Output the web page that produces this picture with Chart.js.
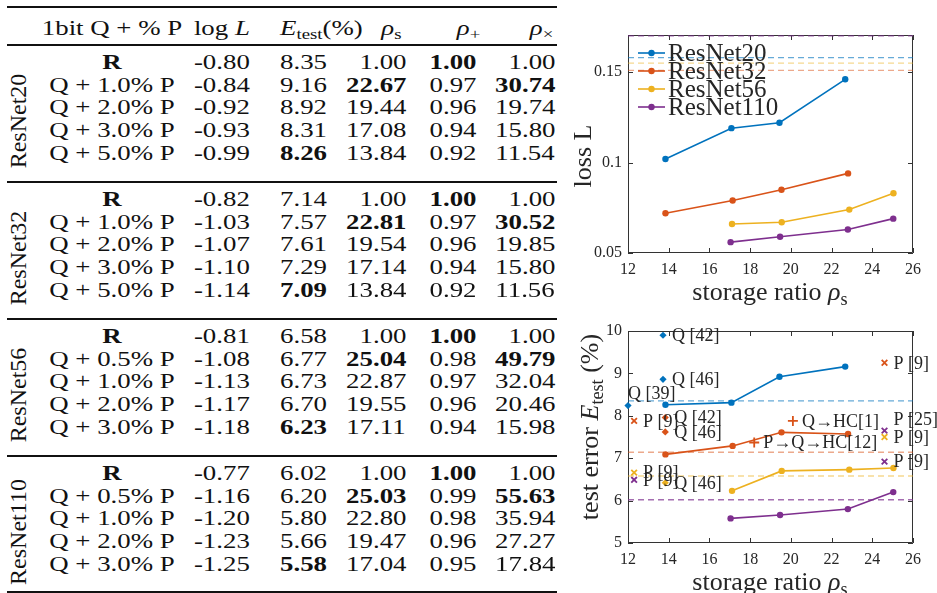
<!DOCTYPE html>
<html>
<head>
<meta charset="utf-8">
<script src="https://cdn.jsdelivr.net/npm/chart.js@4.4.0/dist/chart.umd.min.js"></script>
<style>
  body { margin: 0; background: #fff; }
  #page { position: relative; width: 937px; height: 593px; overflow: hidden;
          font-family: 'Liberation Serif', serif; color: #111; }
  .cell { position: absolute; white-space: nowrap; font-size: 22px; line-height: 22px; height: 22px; }
  .cell sub, .ttl sub { font-size: 0.7em; vertical-align: -0.25em; line-height: 0; }
  .rule { position: absolute; left: 7px; width: 550px; background: #111; }
  .cv { position: absolute; }
  .ttl { position: absolute; white-space: nowrap; font-size: 26px; line-height: 1; color: #262626; }
</style>
</head>
<body>
<div id="page">
  <div id="table"></div>
  <div class="cv" style="left:560px;top:0"><canvas id="lossChart" width="377" height="300"></canvas></div>
  <div class="cv" style="left:560px;top:300px"><canvas id="errChart" width="377" height="293"></canvas></div>
  <div class="ttl" style="left:770px;top:292px;transform:translate(-50%,-50%)">storage ratio <i>ρ</i><sub>s</sub></div>
  <div class="ttl" style="left:583px;top:156px;transform:translate(-50%,-50%) rotate(-90deg)">loss L</div>
  <div class="ttl" style="left:770px;top:582px;transform:translate(-50%,-50%)">storage ratio <i>ρ</i><sub>s</sub></div>
  <div class="ttl" style="left:590px;top:427px;transform:translate(-50%,-50%) rotate(-90deg)">test error <i>E</i><sub>test</sub> (%)</div>
</div>

<script>
// ---------- table data ----------
const nets = ['ResNet20', 'ResNet32', 'ResNet56', 'ResNet110'];
const methods = [
  ['R', 'Q + 1.0% P', 'Q + 2.0% P', 'Q + 3.0% P', 'Q + 5.0% P'],
  ['R', 'Q + 1.0% P', 'Q + 2.0% P', 'Q + 3.0% P', 'Q + 5.0% P'],
  ['R', 'Q + 0.5% P', 'Q + 1.0% P', 'Q + 2.0% P', 'Q + 3.0% P'],
  ['R', 'Q + 0.5% P', 'Q + 1.0% P', 'Q + 2.0% P', 'Q + 3.0% P']
];
const logL = [
  [-0.80, -0.84, -0.92, -0.93, -0.99],
  [-0.82, -1.03, -1.07, -1.10, -1.14],
  [-0.81, -1.08, -1.13, -1.17, -1.18],
  [-0.77, -1.16, -1.20, -1.23, -1.25]
];
const eTest = [
  [8.35, 9.16, 8.92, 8.31, 8.26],
  [7.14, 7.57, 7.61, 7.29, 7.09],
  [6.58, 6.77, 6.73, 6.70, 6.23],
  [6.02, 6.20, 5.80, 5.66, 5.58]
];
const rhoS = [
  [1.00, 22.67, 19.44, 17.08, 13.84],
  [1.00, 22.81, 19.54, 17.14, 13.84],
  [1.00, 25.04, 22.87, 19.55, 17.11],
  [1.00, 25.03, 22.80, 19.47, 17.04]
];
const rhoPlus = [
  [1.00, 0.97, 0.96, 0.94, 0.92],
  [1.00, 0.97, 0.96, 0.94, 0.92],
  [1.00, 0.98, 0.97, 0.96, 0.94],
  [1.00, 0.99, 0.98, 0.96, 0.95]
];
const rhoTimes = [
  [1.00, 30.74, 19.74, 15.80, 11.54],
  [1.00, 30.52, 19.85, 15.80, 11.56],
  [1.00, 49.79, 32.04, 20.46, 15.98],
  [1.00, 55.63, 35.94, 27.27, 17.84]
];

// ---------- chart data ----------
const netColors = ['#0072BD', '#D95319', '#EDB120', '#7E2F8E'];
const refColors = ['rgba(0,114,189,0.6)', 'rgba(217,83,25,0.5)', 'rgba(237,177,32,0.5)', 'rgba(126,47,142,0.7)'];
const storageTicks = [12, 14, 16, 18, 20, 22, 24, 26];
const lossTicks = [0.05, 0.1, 0.15];
const errorTicks = [5, 6, 7, 8, 9, 10];

const ratios = [
  [13.84, 17.08, 19.44, 22.67],
  [13.84, 17.14, 19.54, 22.81],
  [17.11, 19.55, 22.87, 25.04],
  [17.04, 19.47, 22.80, 25.03]
];
const loss = [
  [0.102, 0.119, 0.122, 0.146],
  [0.072, 0.079, 0.085, 0.094],
  [0.066, 0.067, 0.074, 0.083],
  [0.056, 0.059, 0.063, 0.069]
];
const lossRef = [0.158, 0.151, 0.155, 0.170];
const errors = [
  [8.26, 8.31, 8.92, 9.16],
  [7.09, 7.29, 7.61, 7.57],
  [6.23, 6.70, 6.73, 6.77],
  [5.58, 5.66, 5.80, 6.20]
];
const errorRef = [8.35, 7.14, 6.58, 6.02];

// other methods in the error plot
const otherNet   = [0, 0, 0, 1, 1, 1, 1, 1, 1, 2, 2, 2, 3, 3, 3];
const otherMark  = ['d', 'd', 'd', 'x', 'd', 'd', '+', '+', 'x', 'x', 'd', 'x', 'x', 'x', 'x'];
const otherX     = [13.72, 13.72, 12.0, 12.3, 13.83, 13.83, 20.1, 18.2, 24.6, 12.3, 13.83, 24.6, 12.3, 24.6, 24.6];
const otherY     = [9.90, 8.86, 8.24, 7.88, 7.96, 7.62, 7.88, 7.37, 9.25, 6.66, 6.42, 7.50, 6.49, 7.65, 6.92];
const otherLabel = ['Q [42]', 'Q [46]', 'Q [39]', 'P [9]', 'Q [42]', 'Q [46]', 'Q\u2192HC[1]', 'P\u2192Q\u2192HC[12]',
                    'P [9]', 'P [9]', 'Q [46]', 'P [9]', 'P [9]', 'P [25]', 'P [9]'];

// ---------- table ----------
const SX = 1.22;   // the table text is stretched horizontally
const page = document.getElementById('page');
function put(html, x, y, align, bold) {
  const d = document.createElement('div');
  d.className = 'cell';
  d.innerHTML = html;
  d.style.top = (y - 11) + 'px';
  if (bold) d.style.fontWeight = 'bold';
  if (align === 'right') {
    d.style.right = (937 - x) + 'px';
    d.style.transformOrigin = 'right center';
    d.style.transform = `scaleX(${SX})`;
  } else if (align === 'left') {
    d.style.left = x + 'px';
    d.style.transformOrigin = 'left center';
    d.style.transform = `scaleX(${SX})`;
  } else {
    d.style.left = x + 'px';
    d.style.transform = `translateX(-50%) scaleX(${SX})`;
  }
  page.appendChild(d);
}
function rule(y, h) {
  const r = document.createElement('div');
  r.className = 'rule';
  r.style.top = (y - h / 2) + 'px';
  r.style.height = h + 'px';
  page.appendChild(r);
}

const COL = { label: 112, logL: 250, e: 280, rs: 406, rp: 476, rx: 555 };
rule(7, 2);
put('1bit Q + % P', COL.label, 28, 'center');
put('log <i>L</i>', COL.logL, 28, 'right');
put('<i>E</i><sub>test</sub>(%)', COL.e, 28, 'left');
put('<i>ρ</i><sub>s</sub>', 402, 28, 'right');
put('<i>ρ</i><sub>+</sub>', 480, 28, 'right');
put('<i>ρ</i><sub>×</sub>', 553, 28, 'right');

nets.forEach((net, b) => {
  const base = 45 + 137 * b;
  rule(base, b === 0 ? 1.3 : 1.6);
  const minE = Math.min(...eTest[b]);
  const maxS = Math.max(...rhoS[b]);
  const maxP = Math.max(...rhoPlus[b]);
  const maxX = Math.max(...rhoTimes[b]);
  methods[b].forEach((m, i) => {
    const y = base + 17 + i * 22.7;
    put(m, COL.label, y, 'center', m === 'R');
    put(logL[b][i].toFixed(2), COL.logL, y, 'right');
    put(eTest[b][i].toFixed(2), COL.e, y, 'left', eTest[b][i] === minE);
    put(rhoS[b][i].toFixed(2), COL.rs, y, 'right', rhoS[b][i] === maxS);
    put(rhoPlus[b][i].toFixed(2), COL.rp, y, 'right', rhoPlus[b][i] === maxP);
    put(rhoTimes[b][i].toFixed(2), COL.rx, y, 'right', rhoTimes[b][i] === maxX);
  });
  const g = document.createElement('div');
  g.className = 'cell';
  g.textContent = net;
  g.style.fontSize = '24px';
  g.style.left = '18px';
  g.style.top = (base + 76) + 'px';
  g.style.transform = 'translate(-50%,-50%) rotate(-90deg)';
  page.appendChild(g);
});
rule(592, 2);

// ---------- charts ----------
Chart.defaults.font.family = "'Liberation Serif', serif";
Chart.defaults.color = '#262626';

// box with inward ticks on all four sides
const framePlugin = {
  id: 'frame',
  beforeDatasetsDraw(chart) {
    const { ctx, chartArea: a, scales: { x, y } } = chart;
    ctx.save();
    ctx.strokeStyle = '#333';
    ctx.lineWidth = 1;
    ctx.beginPath();
    ctx.rect(a.left + 0.5, a.top + 0.5, a.right - a.left - 1, a.bottom - a.top - 1);
    x.ticks.forEach(t => {
      const px = Math.round(x.getPixelForValue(t.value)) + 0.5;
      ctx.moveTo(px, a.bottom); ctx.lineTo(px, a.bottom - 5);
      ctx.moveTo(px, a.top); ctx.lineTo(px, a.top + 5);
    });
    y.ticks.forEach(t => {
      const py = Math.round(y.getPixelForValue(t.value)) + 0.5;
      ctx.moveTo(a.left, py); ctx.lineTo(a.left + 5, py);
      ctx.moveTo(a.right, py); ctx.lineTo(a.right - 5, py);
    });
    ctx.stroke();
    ctx.restore();
  }
};

function scaleOpts(min, max, ticks, width, height) {
  return {
    x: {
      type: 'linear', min: 12, max: 26,
      afterBuildTicks: s => { s.ticks = storageTicks.map(v => ({ value: v })); },
      afterFit: s => { s.height = height; },
      grid: { display: false, drawTicks: false }, border: { display: false },
      ticks: { padding: 7, font: { size: 16 }, callback: v => String(v) }
    },
    y: {
      type: 'linear', min, max,
      afterBuildTicks: s => { s.ticks = ticks.map(v => ({ value: v })); },
      afterFit: s => { s.width = width; },
      grid: { display: false, drawTicks: false }, border: { display: false },
      ticks: { padding: 6, font: { size: 16 }, callback: v => String(v) }
    }
  };
}

function refLine(value, i) {
  return {
    data: [{ x: 12, y: value }, { x: 26, y: value }],
    showLine: true, borderColor: refColors[i], borderWidth: 1.3,
    borderDash: [6, 4], pointRadius: 0
  };
}
function seriesLine(xs, ys, i) {
  return {
    label: nets[i],
    data: xs.map((x, k) => ({ x, y: ys[k] })),
    showLine: true, borderColor: netColors[i], backgroundColor: netColors[i],
    borderWidth: 1.6, pointRadius: 3.2, pointBorderWidth: 0
  };
}

// legend drawn tight like the original figure
const lossLegend = {
  id: 'lossLegend',
  afterDatasetsDraw(chart) {
    const ctx = chart.ctx;
    ctx.save();
    ctx.font = "25px 'Liberation Serif', serif";
    ctx.textBaseline = 'middle';
    chart.data.datasets.filter(d => d.label).forEach((d, i) => {
      const y = 53 + i * 18;
      ctx.strokeStyle = d.borderColor; ctx.lineWidth = 1.6;
      ctx.beginPath(); ctx.moveTo(78, y); ctx.lineTo(105, y); ctx.stroke();
      ctx.fillStyle = d.borderColor;
      ctx.beginPath(); ctx.arc(91.5, y, 3.2, 0, Math.PI * 2); ctx.fill();
      ctx.fillStyle = '#262626';
      ctx.fillText(d.label, 108, y + 1);
    });
    ctx.restore();
  }
};

new Chart(document.getElementById('lossChart'), {
  type: 'scatter',
  data: {
    datasets: [
      ...lossRef.map(refLine),
      ...nets.map((n, i) => seriesLine(ratios[i], loss[i], i))
    ]
  },
  options: {
    responsive: false, animation: false,
    layout: { padding: { left: 0, right: 24, top: 35, bottom: 0 } },
    plugins: { legend: { display: false }, tooltip: { enabled: false } },
    scales: scaleOpts(0.05, 0.1705, lossTicks, 68, 47)
  },
  plugins: [framePlugin, lossLegend]
});

// marker styles for the other methods
const markStyle = {
  d: { pointStyle: 'rectRot', pointRadius: 3.6, pointBorderWidth: 0 },
  x: { pointStyle: 'crossRot', pointRadius: 4, pointBorderWidth: 1.8 },
  '+': { pointStyle: 'cross', pointRadius: 5, pointBorderWidth: 1.8 }
};
// label offsets [dx, dy] in px from the marker
const labelShift = otherLabel.map(() => [9, 1]);
labelShift[2] = [0, -11];
labelShift[13] = [9, -10];

const otherSets = otherX.map((x, i) => ({
  data: [{ x, y: otherY[i] }],
  note: otherLabel[i], shift: labelShift[i],
  borderColor: netColors[otherNet[i]], backgroundColor: netColors[otherNet[i]],
  clip: false,
  ...markStyle[otherMark[i]]
}));

const notePlugin = {
  id: 'notes',
  afterDatasetsDraw(chart) {
    const ctx = chart.ctx;
    ctx.save();
    ctx.font = "18px 'Liberation Serif', serif";
    ctx.textBaseline = 'middle';
    ctx.fillStyle = '#262626';
    chart.data.datasets.forEach((d, di) => {
      if (!d.note) return;
      const p = chart.getDatasetMeta(di).data[0];
      ctx.fillText(d.note, p.x + d.shift[0], p.y + d.shift[1]);
    });
    ctx.restore();
  }
};

new Chart(document.getElementById('errChart'), {
  type: 'scatter',
  data: {
    datasets: [
      ...errorRef.map(refLine),
      ...nets.map((n, i) => seriesLine(ratios[i], errors[i], i)),
      ...otherSets
    ]
  },
  options: {
    responsive: false, animation: false,
    layout: { padding: { left: 0, right: 24, top: 31, bottom: 0 } },
    plugins: { legend: { display: false }, tooltip: { enabled: false } },
    scales: scaleOpts(5, 10, errorTicks, 68, 50)
  },
  plugins: [framePlugin, notePlugin]
});
</script>
</body>
</html>
